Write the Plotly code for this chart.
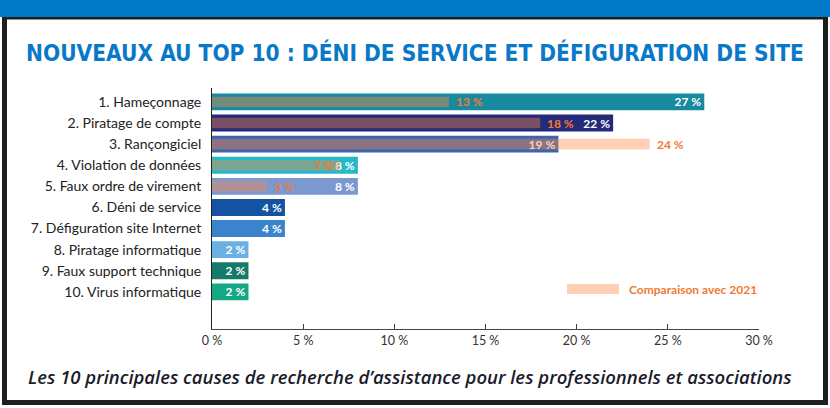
import plotly.graph_objects as go

categories = ["1. Hameçonnage", "2. Piratage de compte", "3. Rançongiciel",
              "4. Violation de données", "5. Faux ordre de virement",
              "6. Déni de service", "7. Défiguration site Internet",
              "8. Piratage informatique", "9. Faux support technique",
              "10. Virus informatique"]
values_2022 = [27, 22, 19, 8, 8, 4, 4, 2, 2, 2]
values_2021 = [13, 18, 24, 7, 3, None, None, None, None, None]
bar_colors = ["#188AA0", "#232A7A", "#3D64B0", "#24B8C8", "#7B98D0",
              "#1452A2", "#3A84CC", "#6AB0E2", "#167A6A", "#14A884"]
tick_vals = [0, 5, 10, 15, 20, 25, 30]
tick_labels = ["0 %", "5 %", "10 %", "15 %", "20 %", "25 %", "30 %"]

W, H = 830, 408
L, R, T, B = 212, 759, 88, 329

def px(x):
    return (x - L) / (R - L)

def py(y):
    return (B - y) / (B - T)

fig = go.Figure()
fig.add_trace(go.Bar(
    y=categories, x=values_2022, orientation="h",
    marker=dict(color=bar_colors, line=dict(width=0)),
    width=0.8,
    text=[f"{v} %" for v in values_2022],
    textposition="inside", insidetextanchor="end", constraintext="none",
    textfont=dict(color="white", size=12, family="Lato", weight="bold"),
    hoverinfo="skip", showlegend=False,
))
fig.add_trace(go.Bar(
    y=categories, x=values_2021, orientation="h",
    marker=dict(color="rgba(255,137,67,0.4)", line=dict(width=0)),
    width=0.5, hoverinfo="skip", showlegend=False,
))

annotations = []
for cat, v, v22 in zip(categories, values_2021, values_2022):
    if v is None:
        continue
    inside = v < v22 and (v22 - v) < 2
    annotations.append(dict(
        x=v, y=cat, xref="x", yref="y",
        text=f"{v} %", showarrow=False,
        xanchor="right" if inside else "left",
        xshift=-4 if inside else 5,
        font=dict(color="#F07A30", size=12, family="Lato", weight="bold"),
    ))

annotations += [
    dict(x=px(415), y=py(52), xref="paper", yref="paper",
         text="NOUVEAUX AU TOP 10 : DÉNI DE SERVICE ET DÉFIGURATION DE SITE",
         showarrow=False, xanchor="center", yanchor="middle",
         font=dict(family="DejaVu Sans Condensed, Liberation Sans Narrow, Roboto", size=22.5,
                   color="#0A78C8", weight="bold")),
    dict(x=px(410), y=py(376), xref="paper", yref="paper",
         text="Les 10 principales causes de recherche d’assistance pour les professionnels et associations",
         showarrow=False, xanchor="center", yanchor="middle",
         font=dict(family="Open Sans", size=18.5, color="#1B1B2B", style="italic", weight=600)),
    dict(x=px(627), y=py(289), xref="paper", yref="paper",
         text="Comparaison avec 2021", showarrow=False, xanchor="left", yanchor="middle",
         font=dict(family="Lato", size=12, color="#F07A30", weight="bold")),
]

shapes = [
    dict(type="rect", xref="paper", yref="paper",
         x0=px(4.5), x1=px(825.5), y0=py(17), y1=py(402.5),
         line=dict(color="#1E1E1E", width=5), fillcolor="rgba(0,0,0,0)", layer="below"),
    dict(type="rect", xref="paper", yref="paper",
         x0=px(0), x1=px(830), y0=py(0), y1=py(17),
         line=dict(width=0), fillcolor="#0079C8"),
    dict(type="rect", xref="paper", yref="paper",
         x0=px(567), x1=px(619), y0=py(284), y1=py(294),
         line=dict(width=0), fillcolor="rgba(255,137,67,0.4)"),
]

fig.update_layout(
    width=W, height=H,
    margin=dict(l=L, r=W - R, t=T, b=H - B),
    paper_bgcolor="white", plot_bgcolor="white",
    barmode="overlay",
    showlegend=False,
    font=dict(family="Lato", color="#222222"),
    xaxis=dict(range=[0, 30], tickvals=tick_vals, ticktext=tick_labels,
               showgrid=False, zeroline=False, showline=True, linecolor="#444444",
               linewidth=1, ticks="inside", ticklen=5, tickcolor="#444444",
               tickfont=dict(size=12.5, color="#333333", family="Lato")),
    yaxis=dict(type="category", range=[10.76, -0.66], showgrid=False, zeroline=False,
               showline=True, linecolor="#222222", linewidth=1, ticks="",
               ticklabelstandoff=7,
               tickfont=dict(size=14, color="#222222", family="Lato")),
    annotations=annotations,
    shapes=shapes,
)

fig.write_html("out.html", config={"displayModeBar": False},
               post_script="document.body.style.margin='0';document.body.style.overflow='hidden';")
